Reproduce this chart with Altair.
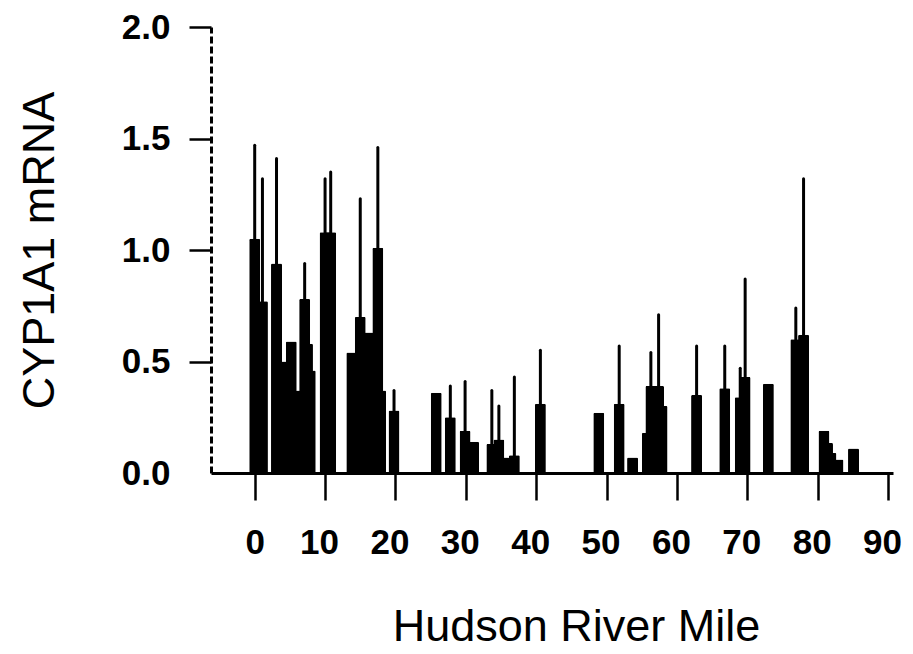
import altair as alt
import pandas as pd

# Hudson River mile of each sampling site (bar centres)
miles = [0.0, 1.1, 3.1, 4.0, 5.2, 6.0, 7.1, 7.5, 7.9, 10.0, 10.8,
         13.8, 15.0, 16.2, 17.5, 17.9, 19.8,
         25.8, 27.8, 29.9, 31.1, 33.7, 34.7, 35.6, 36.9, 40.6,
         48.9, 51.8, 53.7, 55.8, 56.3, 57.4, 57.9, 62.8,
         66.8, 69.0, 69.7, 73.0, 76.9, 78.0,
         80.9, 81.4, 81.9, 82.9, 85.1]

# mean CYP1A1 mRNA
mrna = [1.05, 0.77, 0.94, 0.50, 0.59, 0.37, 0.78, 0.58, 0.46, 1.08, 1.08,
        0.54, 0.70, 0.63, 1.01, 0.37, 0.28,
        0.36, 0.25, 0.19, 0.14, 0.13, 0.15, 0.07, 0.08, 0.31,
        0.27, 0.31, 0.07, 0.18, 0.39, 0.39, 0.30, 0.35,
        0.38, 0.34, 0.43, 0.40, 0.60, 0.62,
        0.19, 0.135, 0.09, 0.06, 0.11]

# top of the error bar (None = no error bar drawn)
err_top = [1.47, 1.32, 1.41, None, None, None, 0.94, None, None, 1.32, 1.35,
           None, 1.23, None, 1.46, None, 0.37,
           None, 0.39, 0.41, None, 0.37, 0.30, None, 0.43, 0.55,
           None, 0.57, None, None, 0.54, 0.71, None, 0.57,
           0.57, 0.47, 0.87, None, 0.74, 1.32,
           None, None, None, None, None]

x_ticks = [0, 10, 20, 30, 40, 50, 60, 70, 80, 90]
y_ticks = [0.0, 0.5, 1.0, 1.5, 2.0]

df = pd.DataFrame({"mile": miles, "mrna": mrna, "err": err_top})

x_enc = alt.X(
    "mile:Q",
    scale=alt.Scale(domain=[-5.5, 90], nice=False, zero=False),
    axis=alt.Axis(
        values=x_ticks,
        title="Hudson River Mile",
        titleFont="Liberation Sans",
        titleFontSize=45,
        titleFontWeight="normal",
        titleColor="black",
        titleX=365,
        titleY=167,
        titleAlign="center",
        titleBaseline="alphabetic",
        labelFont="Liberation Sans",
        labelFontSize=35,
        labelFontWeight="bold",
        labelColor="black",
        labelPadding=25,
        labelFlush=False,
        labelOverlap=False,
        labelOffset={"condition": {"test": "datum.value === 0", "value": 0}, "value": -6},
        tickSize=27,
        tickWidth=2.5,
        tickColor="black",
        domainColor="black",
        domainWidth=3,
        grid=False,
    ),
)

y_enc = alt.Y(
    "mrna:Q",
    scale=alt.Scale(domain=[0, 2], nice=False),
    axis=alt.Axis(
        values=y_ticks,
        format=".1f",
        title="CYP1A1 mRNA",
        titleFont="Liberation Sans",
        titleFontSize=45,
        titleFontWeight="normal",
        titleColor="black",
        titleX=-172,
        titleY=223,
        titleAlign="center",
        titleBaseline="middle",
        titleAngle=270,
        labelFont="Liberation Sans",
        labelFontSize=35,
        labelFontWeight="bold",
        labelColor="black",
        labelPadding=19,
        labelFlush=False,
        labelOverlap=False,
        tickSize=22,
        tickWidth=2.5,
        tickColor="black",
        tickOpacity={"condition": {"test": "datum.value === 0", "value": 0}, "value": 1},
        domainColor="black",
        domainWidth=3,
        domainDash=[7, 3],
        grid=False,
    ),
)

bars = alt.Chart(df).mark_bar(
    color="black", size=11, cornerRadiusTopLeft=1.5, cornerRadiusTopRight=1.5
).encode(x=x_enc, y=y_enc)

errs = alt.Chart(df).transform_filter("isValid(datum.err)").mark_rule(
    color="black", strokeWidth=3, strokeCap="round"
).encode(x="mile:Q", y="mrna:Q", y2="err:Q")

chart = alt.layer(bars, errs).properties(
    width=682,
    height=446,
    autosize=alt.AutoSizeParams(type="none"),
    padding={"left": 203, "top": 19, "right": 10, "bottom": 180},
    background="white",
).configure_view(stroke=None)

chart.save("out.html", embed_options={"renderer": "svg", "actions": False})
